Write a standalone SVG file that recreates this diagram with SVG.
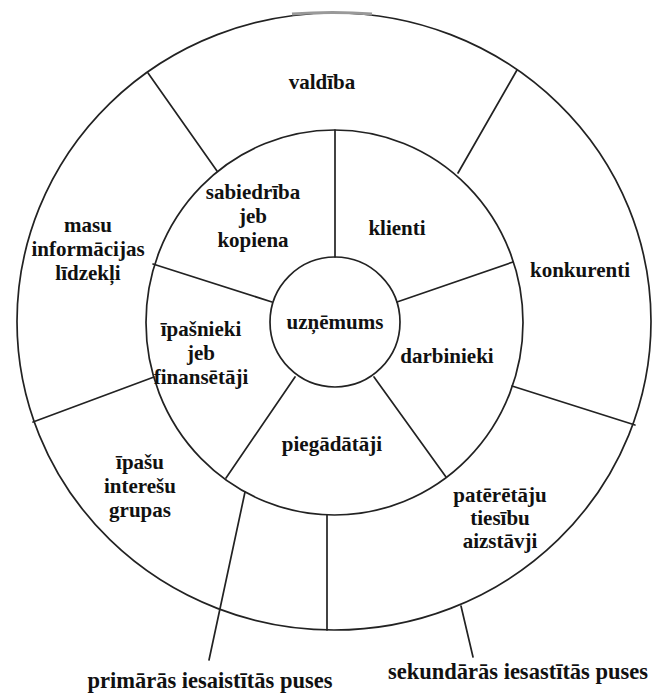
<svg xmlns="http://www.w3.org/2000/svg" width="656" height="695" viewBox="0 0 656 695">
<style>
.ring{fill:none;stroke:#222;stroke-width:1.7}
.ln{stroke:#222;stroke-width:1.7;fill:none;stroke-linecap:round}
text{font-family:"Liberation Serif","Times New Roman",serif;font-weight:bold;font-size:21px;fill:#111;text-anchor:middle}
.big{font-size:22.5px}
</style>
<rect width="656" height="695" fill="#fff"/>
<g id="rings">
<ellipse id="outer-ring" class="ring" cx="334" cy="321.5" rx="317" ry="308.5"/>
<ellipse id="middle-ring" class="ring" cx="334.5" cy="322.5" rx="188.5" ry="192.5"/>
<path d="M292,14 Q333,11 372,14" stroke="#999" stroke-width="3" fill="none"/>
</g>
<g id="connectors">
<line class="ln" x1="335" y1="130" x2="335" y2="257"/>
<line class="ln" x1="153" y1="264" x2="272" y2="302"/>
<line class="ln" x1="397" y1="302" x2="513" y2="262"/>
<line class="ln" x1="295" y1="377" x2="226" y2="478"/>
<line class="ln" x1="374" y1="377" x2="446" y2="477"/>
<line class="ln" x1="148" y1="73" x2="217" y2="171"/>
<line class="ln" x1="517" y1="70" x2="458" y2="173"/>
<line class="ln" x1="154" y1="377" x2="33" y2="422"/>
<line class="ln" x1="512" y1="386" x2="635" y2="425"/>
<line class="ln" x1="327" y1="515" x2="327" y2="630"/>
<line class="ln" x1="245" y1="492" x2="209" y2="660"/>
<line class="ln" x1="461" y1="606" x2="473" y2="657"/>
</g>
<g id="uznemums">
<circle class="ring" cx="335" cy="322" r="65" fill="#fff"/>
<text x="335" y="329">uzņēmums</text>
</g>
<g id="valdiba"><text x="322" y="89">valdība</text></g>
<g id="sabiedriba"><text x="253" y="199">sabiedrība</text><text x="253" y="223">jeb</text><text x="253" y="247">kopiena</text></g>
<g id="klienti"><text x="397" y="235">klienti</text></g>
<g id="masu-info"><text x="88" y="232">masu</text><text x="88" y="256">informācijas</text><text x="88" y="280">līdzekļi</text></g>
<g id="konkurenti"><text x="580" y="277">konkurenti</text></g>
<g id="ipasnieki"><text x="201" y="336">īpašnieki</text><text x="201" y="360">jeb</text><text x="201" y="384">finansētāji</text></g>
<g id="darbinieki"><text x="447" y="363">darbinieki</text></g>
<g id="piegadataji"><text x="332" y="451">piegādātāji</text></g>
<g id="ipasu-grupas"><text x="140" y="469">īpašu</text><text x="140" y="493">interešu</text><text x="140" y="517">grupas</text></g>
<g id="pateretaju"><text x="500" y="502">patērētāju</text><text x="500" y="525">tiesību</text><text x="500" y="548">aizstāvji</text></g>
<g id="primaras"><text class="big" x="210" y="688">primārās iesaistītās puses</text></g>
<g id="sekundaras"><text class="big" x="518" y="679">sekundārās iesastītās puses</text></g>
</svg>
